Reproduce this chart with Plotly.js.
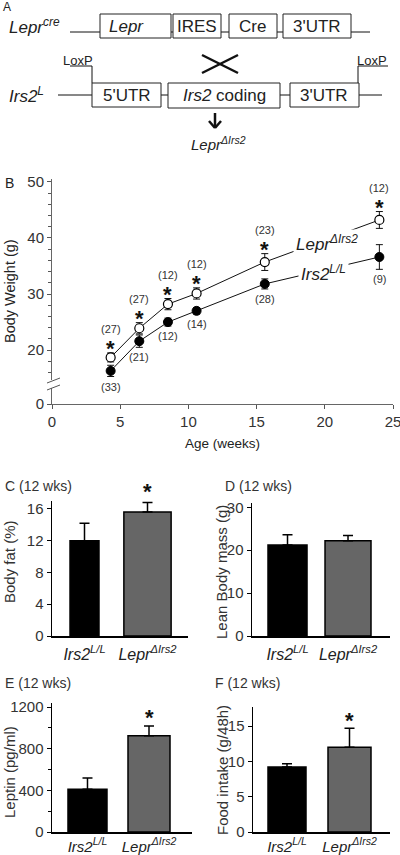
<!DOCTYPE html>
<html><head><meta charset="utf-8">
<script src="https://cdn.plot.ly/plotly-3.0.1.min.js"></script>
<style>html,body{margin:0;padding:0;background:#fff}#chart{width:400px;height:855px}</style>
</head><body><div id="chart"></div>
<script>
// ---------- DATA ----------
const ages = [4.3, 6.4, 8.5, 10.6, 15.6, 24.0];
const bwLepr = [18.7, 23.9, 28.2, 30.1, 35.7, 43.2];
const bwLeprErr = [0.8, 1.0, 1.0, 1.0, 1.5, 1.5];
const bwIrs2 = [16.3, 21.6, 25.0, 27.0, 31.8, 36.6];
const bwIrs2Err = [1.0, 1.1, 0.7, 0.6, 0.9, 2.2];
const nLepr = [27, 27, 12, 12, 23, 12];
const nIrs2 = [33, 21, 12, 14, 28, 9];
const bwSig = [true, true, true, true, true, true];

const groups = ['<i>Irs2<sup>L/L</sup></i>', '<i>Lepr<sup>ΔIrs2</sup></i>'];
const bodyFat = [12.0, 15.6], bodyFatErr = [2.2, 1.2], bodyFatSig = [false, true];
const leanMass = [21.2, 22.2], leanMassErr = [2.4, 1.2], leanMassSig = [false, false];
const leptin = [410, 925], leptinErr = [110, 95], leptinSig = [false, true];
const foodIntake = [9.2, 12.0], foodIntakeErr = [0.45, 2.7], foodIntakeSig = [false, true];

const yTickVals = [10.4, 20, 30, 40, 50];
const yTickText = ['0', '20', '30', '40', '50'];
const yMinorVals = [16, 18, 22, 24, 26, 28, 32, 34, 36, 38, 42, 44, 46, 48];

// ---------- HELPERS ----------
const W = 400, H = 855;
const FONT = 'Liberation Sans, Arial, sans-serif';
const px = p => p / W;
const py = p => 1 - p / H;
const dx = (a, b) => [px(a), px(b)];
const dy = (top, bottom) => [py(bottom), py(top)];

const shapes = [];
const annotations = [];
function line(x0, y0, x1, y1, w, c) {
  shapes.push({type: 'line', xref: 'paper', yref: 'paper', x0: px(x0), y0: py(y0), x1: px(x1), y1: py(y1),
    line: {color: c || '#111', width: w || 1}});
}
function rect(x0, y0, x1, y1) {
  shapes.push({type: 'rect', xref: 'paper', yref: 'paper', x0: px(x0), y0: py(y0), x1: px(x1), y1: py(y1),
    fillcolor: '#fff', line: {color: '#222', width: 1}});
}
function txt(t, x, y, size, anchor, extra) {
  annotations.push(Object.assign({text: t, xref: 'paper', yref: 'paper', x: px(x), y: py(y), showarrow: false,
    xanchor: anchor || 'center', yanchor: 'middle', font: {family: FONT, size: size, color: '#222'}}, extra || {}));
}

// ---------- PANEL A (diagram) ----------
txt('A', 1, 7, 12, 'left');
line(70, 32, 370, 32);
rect(100, 14, 171, 38); rect(173, 14, 221, 38); rect(229, 14, 277, 38); rect(283, 14, 351, 38);
txt('<i>Lepr<sup>cre</sup></i>', 7, 26, 17, 'left');
txt('<i>Lepr</i>', 126, 26, 17);
txt('IRES', 197, 26, 17);
txt('Cre', 253, 26, 17);
txt("3'UTR", 317, 26, 17);
line(202, 55, 238, 73, 2.5); line(202, 73, 238, 55, 2.5);
line(58, 95, 382, 95);
line(70, 66, 92, 66); line(92, 66, 92, 83);
line(358, 66, 388, 66); line(358, 66, 358, 83);
rect(92, 83, 161, 107); rect(168, 83, 280, 108); rect(290, 83, 359, 107);
txt('LoxP', 78, 60, 13); txt('LoxP', 372, 60, 13);
txt('<i>Irs2<sup>L</sup></i>', 7, 95, 17, 'left');
txt("5'UTR", 127, 95, 17);
txt('<i>Irs2</i> coding', 224, 95, 17);
txt("3'UTR", 324, 95, 17);
line(215, 113, 215, 128, 2.5); line(209, 121, 215, 128, 2.5); line(221, 121, 215, 128, 2.5);
txt('<i>Lepr<sup>ΔIrs2</sup></i>', 218, 143, 15);

// ---------- PANEL B ----------
txt('B', 3, 183, 14, 'left');
txt('Body Weight (g)', 10, 291, 14.5, 'center', {textangle: -90});
txt('Age (weeks)', 222, 443, 13.5);
// axis break
shapes.push({type: 'rect', xref: 'paper', yref: 'paper', x0: px(50), x1: px(56), y0: py(388), y1: py(380),
  fillcolor: '#fff', line: {width: 0}});
line(47, 383, 60, 378, 1, '#555'); line(47, 390, 60, 385, 1, '#555');

const traces = [];
traces.push({x: ages, y: bwIrs2, type: 'scatter', mode: 'lines+markers', xaxis: 'x', yaxis: 'y',
  line: {color: '#111', width: 1},
  marker: {symbol: 'circle', size: 9, color: '#000', line: {color: '#000', width: 1}},
  error_y: {type: 'data', array: bwIrs2Err, color: '#111', thickness: 1, width: 3.5}, hoverinfo: 'skip'});
traces.push({x: ages, y: bwLepr, type: 'scatter', mode: 'lines+markers', xaxis: 'x', yaxis: 'y',
  line: {color: '#111', width: 1},
  marker: {symbol: 'circle', size: 9, color: '#fff', line: {color: '#000', width: 1.2}},
  error_y: {type: 'data', array: bwLeprErr, color: '#111', thickness: 1, width: 3.5}, hoverinfo: 'skip'});

ages.forEach((a, i) => {
  const top = bwLepr[i] + bwLeprErr[i];
  if (bwSig[i]) annotations.push({x: a, y: top, xref: 'x', yref: 'y', text: '<b>*</b>', showarrow: false,
    yanchor: 'middle', yshift: 4, font: {family: FONT, size: 22, color: '#111'}});
  annotations.push({x: a, y: top, xref: 'x', yref: 'y', text: '(' + nLepr[i] + ')', showarrow: false,
    yanchor: 'middle', yshift: 24, font: {family: FONT, size: 11, color: '#333'}});
  const bot = bwIrs2[i] - bwIrs2Err[i];
  annotations.push({x: a, y: bot, xref: 'x', yref: 'y', text: '(' + nIrs2[i] + ')', showarrow: false,
    yanchor: 'middle', yshift: -10, font: {family: FONT, size: 11, color: '#333'}});
});
txt('<i>Lepr<sup>ΔIrs2</sup></i>', 327, 243, 17, 'center', {bgcolor: '#fff', borderpad: 2});
txt('<i>Irs2<sup>L/L</sup></i>', 323, 273, 17, 'center', {bgcolor: '#fff', borderpad: 2});

// ---------- BAR PANELS ----------
function barPanel(n, vals, errs, sig, widths, starShift) {
  const xa = 'x' + n, ya = 'y' + n;
  traces.push({type: 'bar', x: groups, y: vals, width: widths, xaxis: xa, yaxis: ya,
    marker: {color: ['#000', '#666'], line: {color: '#000', width: 1.5}},
    error_y: {type: 'data', symmetric: false, array: errs, arrayminus: [0, 0], color: '#000', thickness: 1.5, width: 5},
    hoverinfo: 'skip'});
  groups.forEach((g, i) => {
    if (sig[i]) annotations.push({x: g, y: vals[i], xref: xa, yref: ya, text: '<b>*</b>', showarrow: false,
      yanchor: 'middle', yshift: starShift, font: {family: FONT, size: 22, color: '#111'}});
  });
}
barPanel(2, bodyFat, bodyFatErr, bodyFatSig, [0.46, 0.75], 21);
barPanel(3, leanMass, leanMassErr, leanMassSig, [0.645, 0.76], 21);
barPanel(4, leptin, leptinErr, leptinSig, [0.634, 0.683], 18);
barPanel(5, foodIntake, foodIntakeErr, foodIntakeSig, [0.608, 0.688], 27);

const tfont = {family: FONT, size: 14, color: '#333'};
txt('C (12 wks)', 3, 486, 14, 'left', {font: tfont});
txt('D (12 wks)', 223, 486, 14, 'left', {font: tfont});
txt('E (12 wks)', 3, 683, 14, 'left', {font: tfont});
txt('F (12 wks)', 213, 683, 14, 'left', {font: tfont});
const afont = {family: FONT, size: 15, color: '#333'};
txt('Body fat (%)', 9, 562, 15, 'center', {textangle: -90, font: afont});
txt('Lean Body mass (g)', 221, 572, 15, 'center', {textangle: -90, font: afont});
txt('Leptin (pg/ml)', 9, 772, 15, 'center', {textangle: -90, font: afont});
txt('Food intake (g/48h)', 222, 770, 15, 'center', {textangle: -90, font: afont});

const tf = {family: FONT, size: 15, color: '#333'};
function catAxis(dom, range, size, standoff) {
  return {domain: dom, type: 'category', range: range, showline: true, linecolor: '#000', linewidth: 1.5,
    ticks: '', showgrid: false, zeroline: false, tickfont: {family: FONT, size: size, color: '#222'},
    ticklabelstandoff: standoff, fixedrange: true};
}
function valAxis(dom, range, tickvals, minor) {
  const a = {domain: dom, range: range, showline: true, linecolor: '#000', linewidth: 1.5, ticks: 'outside', ticklen: 4,
    tickcolor: '#000', tickwidth: 1, tickvals: tickvals, showgrid: false, zeroline: false, tickfont: tf, fixedrange: true};
  if (minor) a.minor = {tickvals: minor, ticks: 'outside', ticklen: 3, tickcolor: '#000'};
  return a;
}

const layout = {
  width: W, height: H, margin: {l: 0, r: 0, t: 0, b: 0}, showlegend: false,
  paper_bgcolor: '#fff', plot_bgcolor: 'rgba(0,0,0,0)', font: {family: FONT, color: '#333'},
  xaxis: {domain: dx(52, 393), range: [0, 25], tickvals: [0, 5, 10, 15, 20, 25], ticks: 'outside', ticklen: 4,
    tickcolor: '#555', showline: true, linecolor: '#666', linewidth: 1, showgrid: false, zeroline: false,
    ticklabeloverflow: 'allow',
    tickfont: {family: FONT, size: 15, color: '#333'}, fixedrange: true},
  yaxis: {domain: dy(179, 404), range: [10.4, 50.5], tickvals: yTickVals, ticktext: yTickText, ticks: 'outside', ticklen: 4,
    tickcolor: '#555', showline: true, linecolor: '#666', linewidth: 1, showgrid: false, zeroline: false,
    minor: {tickvals: yMinorVals, ticks: 'outside', ticklen: 3, tickcolor: '#555'},
    tickfont: {family: FONT, size: 15, color: '#333'}, fixedrange: true},
  xaxis2: catAxis(dx(52, 188), [-0.516, 1.643], 16, 3),
  yaxis2: valAxis(dy(501, 636), [0, 17], [0, 4, 8, 12, 16]),
  xaxis3: catAxis(dx(252, 390), [-0.587, 1.694], 16, 3),
  yaxis3: valAxis(dy(503, 636), [0, 31], [0, 10, 20, 30]),
  xaxis4: catAxis(dx(52, 192), [-0.577, 1.699], 15, 0),
  yaxis4: valAxis(dy(703, 832), [0, 1240], [0, 400, 800, 1200], [200, 600, 1000]),
  xaxis5: catAxis(dx(253, 390), [-0.544, 1.648], 15, 0),
  yaxis5: valAxis(dy(707, 832), [0, 17.7], [0, 5, 10, 15]),
  shapes: shapes, annotations: annotations
};
['yaxis2','yaxis3','yaxis4','yaxis5'].forEach((k, i) => { layout[k].anchor = 'x' + (i + 2); layout['xaxis' + (i + 2)].anchor = 'y' + (i + 2); });
layout.xaxis.anchor = 'y'; layout.yaxis.anchor = 'x';

Plotly.newPlot('chart', traces, layout, {staticPlot: true, displayModeBar: false});
</script></body></html>
